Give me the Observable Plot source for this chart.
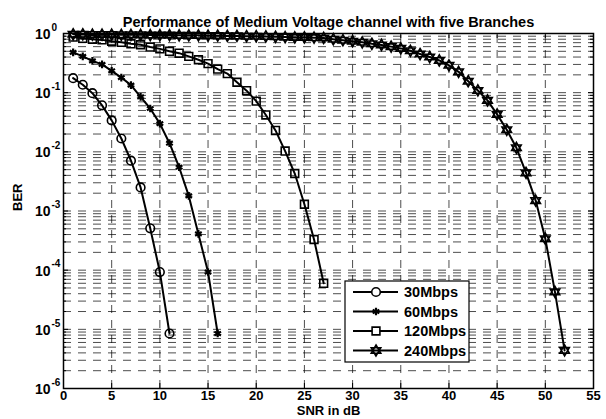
<!DOCTYPE html>
<html><head><meta charset="utf-8">
<script src="https://cdn.jsdelivr.net/npm/d3@7"></script>
<script src="https://cdn.jsdelivr.net/npm/@observablehq/plot@0.6"></script>
<style>
body{margin:0;background:#fff;font-family:"Liberation Sans",Arial,sans-serif}
#chart{position:relative;width:606px;height:419px}
</style>
</head><body><div id="chart"></div>
<script>
const title = "Performance of Medium Voltage channel with five Branches";
const xLabel = "SNR in dB";
const yLabel = "BER";
const xTicks = [0,5,10,15,20,25,30,35,40,45,50,55];
const yMajor = [1,1e-1,1e-2,1e-3,1e-4,1e-5,1e-6];
const yExp = ["0","-1","-2","-3","-4","-5","-6"];
const seriesNames = ["30Mbps","60Mbps","120Mbps","240Mbps"];

const snr30 = [1,2,3,4,5,6,7,8,9,10,11];
const ber30 = [0.176,0.136,0.098,0.061,0.034,0.0168,0.0071,0.0025,5.1e-4,9.3e-5,8.5e-6];
const snr60 = [1,2,3,4,5,6,7,8,9,10,11,12,13,14,15,16];
const ber60 = [0.48,0.41,0.345,0.30,0.234,0.18,0.134,0.085,0.054,0.030,0.014,0.0055,0.0018,4.1e-4,9.3e-5,8.5e-6];
const snr120 = [1,2,3,4,5,6,7,8,9,10,11,12,13,14,15,16,17,18,19,20,21,22,23,24,25,26,27];
const ber120 = [0.87,0.83,0.80,0.78,0.74,0.71,0.67,0.645,0.59,0.55,0.50,0.465,0.41,0.36,0.31,0.25,0.21,0.15,0.108,0.072,0.042,0.023,0.0103,0.0043,0.0013,3.3e-4,6.0e-5];
const snr240 = [1,2,3,4,5,6,7,8,9,10,11,12,13,14,15,16,17,18,19,20,21,22,23,24,25,26,27,28,29,30,31,32,33,34,35,36,37,38,39,40,41,42,43,44,45,46,47,48,49,50,51,52];
const ber240 = [0.97,0.97,0.96,0.96,0.96,0.95,0.95,0.95,0.94,0.94,0.94,0.93,0.93,0.93,0.92,0.92,0.91,0.91,0.90,0.90,0.89,0.88,0.87,0.86,0.86,0.85,0.84,0.80,0.77,0.74,0.71,0.67,0.64,0.60,0.56,0.51,0.45,0.40,0.35,0.29,0.225,0.156,0.109,0.074,0.043,0.0236,0.0117,0.0044,0.0015,3.4e-4,4.3e-5,4.4e-6];

const hexagram = {draw(ctx, size){
  const r = Math.sqrt(size/Math.PI)*1.2;
  for (const off of [-Math.PI/2, Math.PI/2]) {
    for (let k=0;k<3;k++){ const a = off + k*2*Math.PI/3; const px=r*Math.cos(a), py=r*Math.sin(a); if(k) ctx.lineTo(px,py); else ctx.moveTo(px,py); }
    ctx.closePath();
  }
}};
const symbols = ["circle","asterisk","square",hexagram];
const radii = [4.3,3.6,4.4,4.6];
const sw = [1.6,2.2,1.6,1.6];

const rows = [];
[[snr30,ber30],[snr60,ber60],[snr120,ber120],[snr240,ber240]].forEach(([xs,ys],i)=>{
  xs.forEach((x,j)=>rows.push({s:i,x,y:ys[j]}));
});

const W=606,H=419,mL=63,mR=13,mT=33,mB=31;
const fw=W-mL-mR, fh=H-mT-mB;
const yAll = d3.scaleLog().domain([1e-6,1]).ticks();
const yMinor = yAll.filter(v=>!yMajor.some(m=>Math.abs(Math.log10(v)-Math.log10(m))<1e-9));
const yInner = yAll.filter(v=>v>1.0000001e-6 && v<0.9999999);
const xInner = xTicks.filter(v=>v>0 && v<55);
const font = '"Liberation Sans",Arial,sans-serif';

const marks = [
  Plot.ruleY(yInner,{y:d=>d,stroke:"#000",strokeOpacity:0.7,strokeWidth:1,strokeDasharray:"8,7"}),
  Plot.ruleX(xInner,{x:d=>d,y1:()=>1e-6,y2:()=>1,stroke:"#000",strokeOpacity:0.7,strokeWidth:1,strokeDasharray:"8,7"}),
  Plot.tickX(xInner,{x:d=>d,insetTop:fh-5,stroke:"#000"}),
  Plot.tickX(xInner,{x:d=>d,insetBottom:fh-5,stroke:"#000"}),
  Plot.tickY(yMajor,{y:d=>d,insetRight:fw-5,stroke:"#000"}),
  Plot.tickY(yMajor,{y:d=>d,insetLeft:fw-5,stroke:"#000"}),
  Plot.tickY(yMinor,{y:d=>d,insetRight:fw-3,stroke:"#000"}),
  Plot.tickY(yMinor,{y:d=>d,insetLeft:fw-3,stroke:"#000"}),
  Plot.line(rows,{x:"x",y:"y",z:"s",stroke:"#000",strokeWidth:2}),
];
for (let i=0;i<4;i++){
  marks.push(Plot.dot(rows.filter(d=>d.s===i),{x:"x",y:"y",symbol:()=>symbols[i],r:radii[i],stroke:"#000",strokeWidth:sw[i],fill:"none"}));
}
marks.push(
  Plot.frame({stroke:"#000",strokeWidth:1.5}),
  Plot.axisX(xTicks,{tickSize:0,tickPadding:2,fontSize:13,fontWeight:"bold",label:null}),
  Plot.text(yMajor,{y:d=>d,text:()=>"10",frameAnchor:"left",textAnchor:"end",dx:-13,dy:1,fontSize:14,fontWeight:"bold"}),
  Plot.text(yMajor,{y:d=>d,text:(d,i)=>yExp[i],frameAnchor:"left",textAnchor:"start",dx:-12,dy:-6,fontSize:10,fontWeight:"bold"}),
  Plot.text([title],{frameAnchor:"top",dy:-17,text:d=>d,fontSize:14.5,fontWeight:"bold"}),
  Plot.text([xLabel],{frameAnchor:"bottom",dy:26,text:d=>d,fontSize:13,fontWeight:"bold"}),
  Plot.text([yLabel],{frameAnchor:"left",dx:-46,rotate:-90,text:d=>d,fontSize:13,fontWeight:"bold"})
);

const chart = Plot.plot({
  width:W,height:H,marginLeft:mL,marginRight:mR,marginTop:mT,marginBottom:mB,
  style:{fontFamily:font,color:"#000",background:"#fff"},
  x:{domain:[0,55]},
  y:{type:"log",domain:[1e-6,1],axis:null},
  marks
});
document.getElementById("chart").appendChild(chart);

// legend
const svg = d3.select(chart);
const lg = svg.append("g").attr("transform","translate(345,281)");
lg.append("rect").attr("width",124).attr("height",81).attr("fill","#fff").attr("stroke","#000").attr("stroke-width",1.2);
const symMap = {circle:d3.symbolCircle,asterisk:d3.symbolAsterisk,square:d3.symbolSquare};
seriesNames.forEach((name,i)=>{
  const y = 11 + i*19.5;
  const g = lg.append("g").attr("transform",`translate(0,${y})`);
  g.append("line").attr("x1",8).attr("x2",53).attr("y1",0).attr("y2",0).attr("stroke","#000").attr("stroke-width",2);
  const t = typeof symbols[i]==="string" ? symMap[symbols[i]] : symbols[i];
  g.append("path").attr("transform","translate(31,0)").attr("d",d3.symbol(t,radii[i]*radii[i]*Math.PI)()).attr("fill", i===0||i===2 ? "#fff":"none").attr("stroke","#000").attr("stroke-width",sw[i]);
  g.append("text").attr("x",59).attr("y",0).attr("dy","0.35em").attr("text-anchor","start").attr("font-size",14.5).attr("font-weight","bold").attr("font-family",font).text(name);
});
</script>
</body></html>
